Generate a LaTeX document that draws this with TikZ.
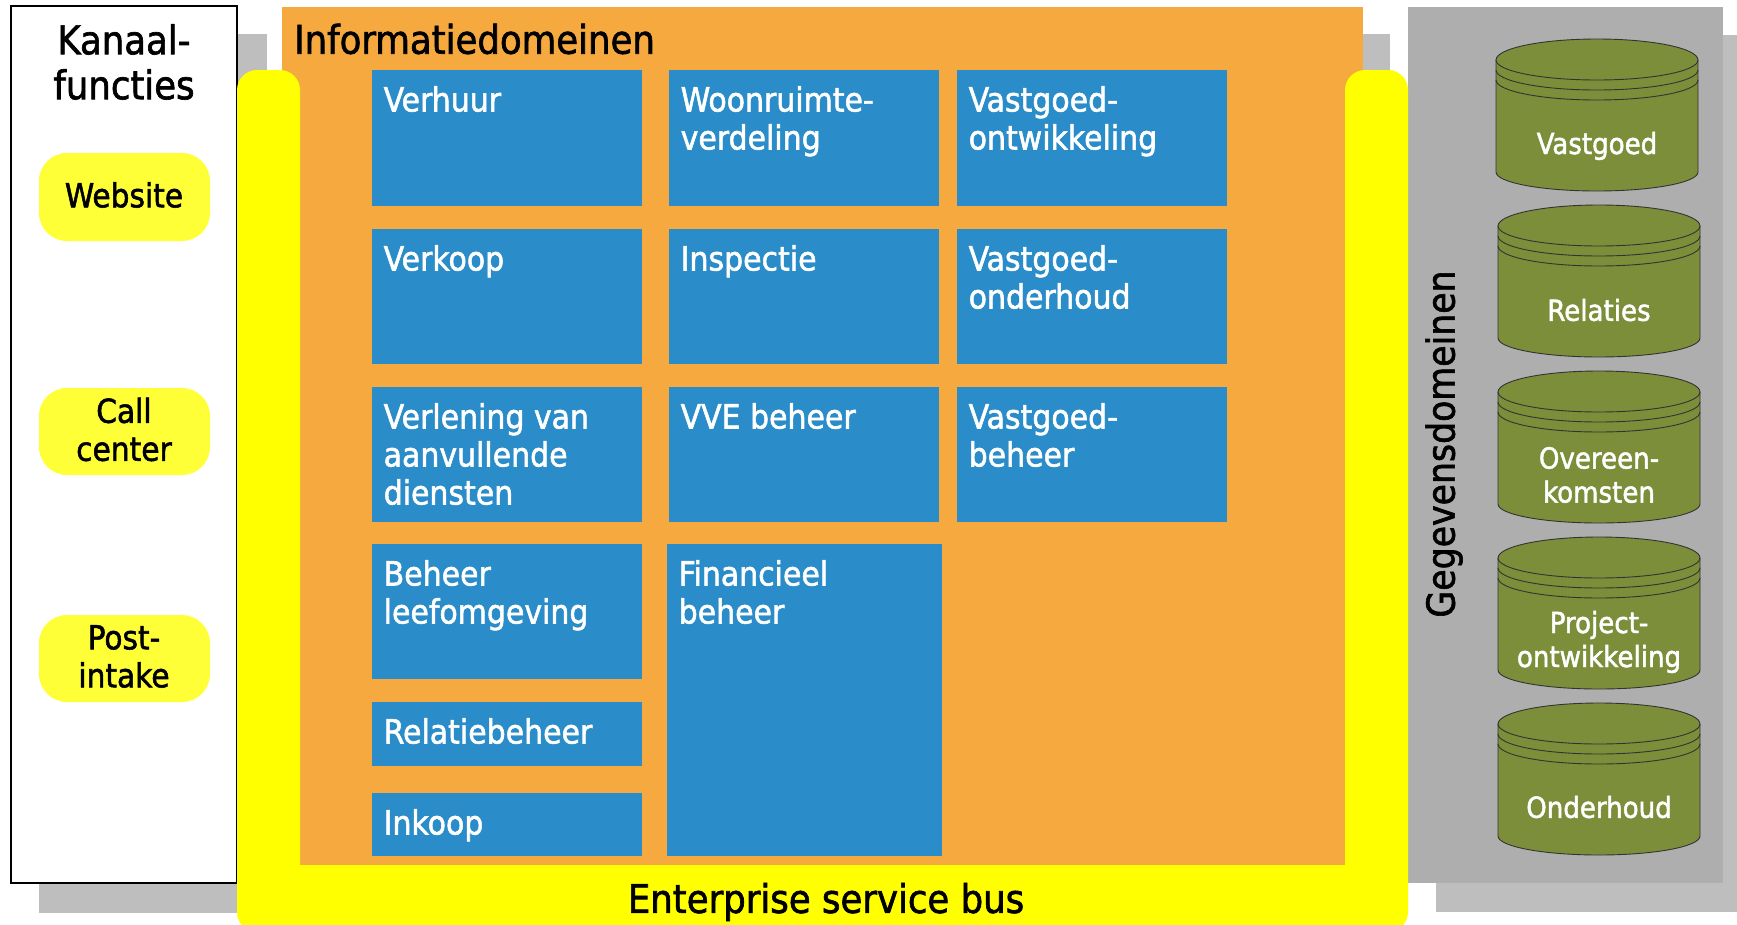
\documentclass[tikz,border=0pt]{standalone}
\usepackage{fontspec}
\setmainfont[FakeBold=1.6]{DejaVu Sans Condensed}
\definecolor{busyellow}{HTML}{FFFF00}
\definecolor{infoorange}{HTML}{F5A93F}
\definecolor{domblue}{HTML}{2A8CC8}
\definecolor{pillyellow}{HTML}{FFFF38}
\definecolor{dbgreen}{HTML}{7C8E3A}
\definecolor{panelgray}{HTML}{AEAEAE}
\definecolor{shadowgray}{HTML}{BEBEBE}
\tikzset{
	shadowbox/.style={fill=shadowgray},
	domlabel/.style={anchor=north west,align=left,text=white,font=\fontsize{33.3}{38}\selectfont,inner sep=0pt},
	dbbody/.style={fill=dbgreen,draw=black!80,line width=0.9pt},
	dblabel/.style={align=center,text=white,font=\fontsize{29}{34}\selectfont,inner sep=0pt},
	pill/.style={fill=pillyellow,rounded corners=28pt},
	pilllabel/.style={align=center,text=black,font=\fontsize{33}{38}\selectfont,inner sep=0pt},
	heading/.style={align=center,text=black,font=\fontsize{39.5}{45}\selectfont,inner sep=0pt}
}
\begin{document}
\begin{tikzpicture}[x=1pt,y=-1pt]
	\useasboundingbox (0,0) rectangle (1737,924);
	\fill [white] (0,0) rectangle (1737,924);

	\fill [shadowbox] (39,34) rectangle (267,913);
	\fill [shadowbox] (282,34) rectangle (1390,913);
	\fill [shadowbox] (1436,35) rectangle (1737,912);

	\filldraw [fill=white,draw=black,line width=1.6pt] (11,6) rectangle (237,883);
	\node [heading] (kanaal) at (124,62) {Kanaal-\\functies};

	\fill [infoorange] (282,7) rectangle (1363,865);
	\node [heading,anchor=west] (info) at (294,39) {Informatiedomeinen};

	\fill [panelgray] (1408,7) rectangle (1723,883);
	\node [heading,font=\fontsize{38.6}{45}\selectfont,rotate=90] (gegevens) at (1444,444) {Gegevensdomeinen};

	% bus om de domeinen heen
	\fill [busyellow,rounded corners=20pt] (237,932) -- (237,70) -- (300,70) [sharp corners] -- (300,865) -- (1345,865) [rounded corners=20pt] -- (1345,70) -- (1408,70) -- (1408,932) -- cycle;
	\node [heading] (bus) at (826,902) {Enterprise service bus};

	\foreach \name/\y/\h/\txt in {website/153/88/Website,callcenter/388/87/{Call\\center},post/615/87/{Post-\\intake}}{
		\fill [pill] (39,\y) rectangle (210,\y+\h);
		\node [pilllabel] (\name) at (124,\y+\h/2-2) {\txt};
	}

	\foreach \name/\l/\t/\r/\b/\txt in {
		verhuur/372/70/642/206/Verhuur,
		woonruimte/669/70/939/206/{Woonruimte-\\verdeling},
		ontwikkeling/957/70/1227/206/{Vastgoed-\\ontwikkeling},
		verkoop/372/229/642/364/Verkoop,
		inspectie/669/229/939/364/Inspectie,
		onderhoud/957/229/1227/364/{Vastgoed-\\onderhoud},
		verlening/372/387/642/522/{Verlening van\\aanvullende\\diensten},
		vve/669/387/939/522/VVE beheer,
		beheer/957/387/1227/522/{Vastgoed-\\beheer},
		leefomgeving/372/544/642/679/{Beheer\\leefomgeving},
		financieel/667/544/942/856/{Financieel\\beheer},
		relatie/372/702/642/766/Relatiebeheer,
		inkoop/372/793/642/856/Inkoop}{
		\fill [domblue] (\l,\t) rectangle (\r,\b);
		\node [domlabel] (\name) at (\l+11.5,\t+16) {\txt};
	}

	\foreach \name/\l/\t/\ty/\txt in {
		dbvastgoed/1496/39/146/Vastgoed,
		dbrelaties/1498/205/310/Relaties,
		dbovereen/1498/371/475/{Overeen-\\komsten},
		dbproject/1498/537/642/{Project-\\ontwikkeling},
		dbonderhoud/1498/703/807/Onderhoud}{
		\filldraw [dbbody] (\l,\t+21) -- (\l,\t+133) arc[start angle=180,end angle=360,x radius=101pt,y radius=19pt] -- (\l+202,\t+21) arc[start angle=0,end angle=180,x radius=101pt,y radius=21pt] -- cycle;
		\foreach \d in {21,31,41}{
			\draw [dbbody,fill=none] (\l,\t+\d) arc[start angle=180,end angle=360,x radius=101pt,y radius=20pt];
		}
		\node [dblabel] (\name) at (\l+101,\ty) {\txt};
	}
\end{tikzpicture}
\end{document}
